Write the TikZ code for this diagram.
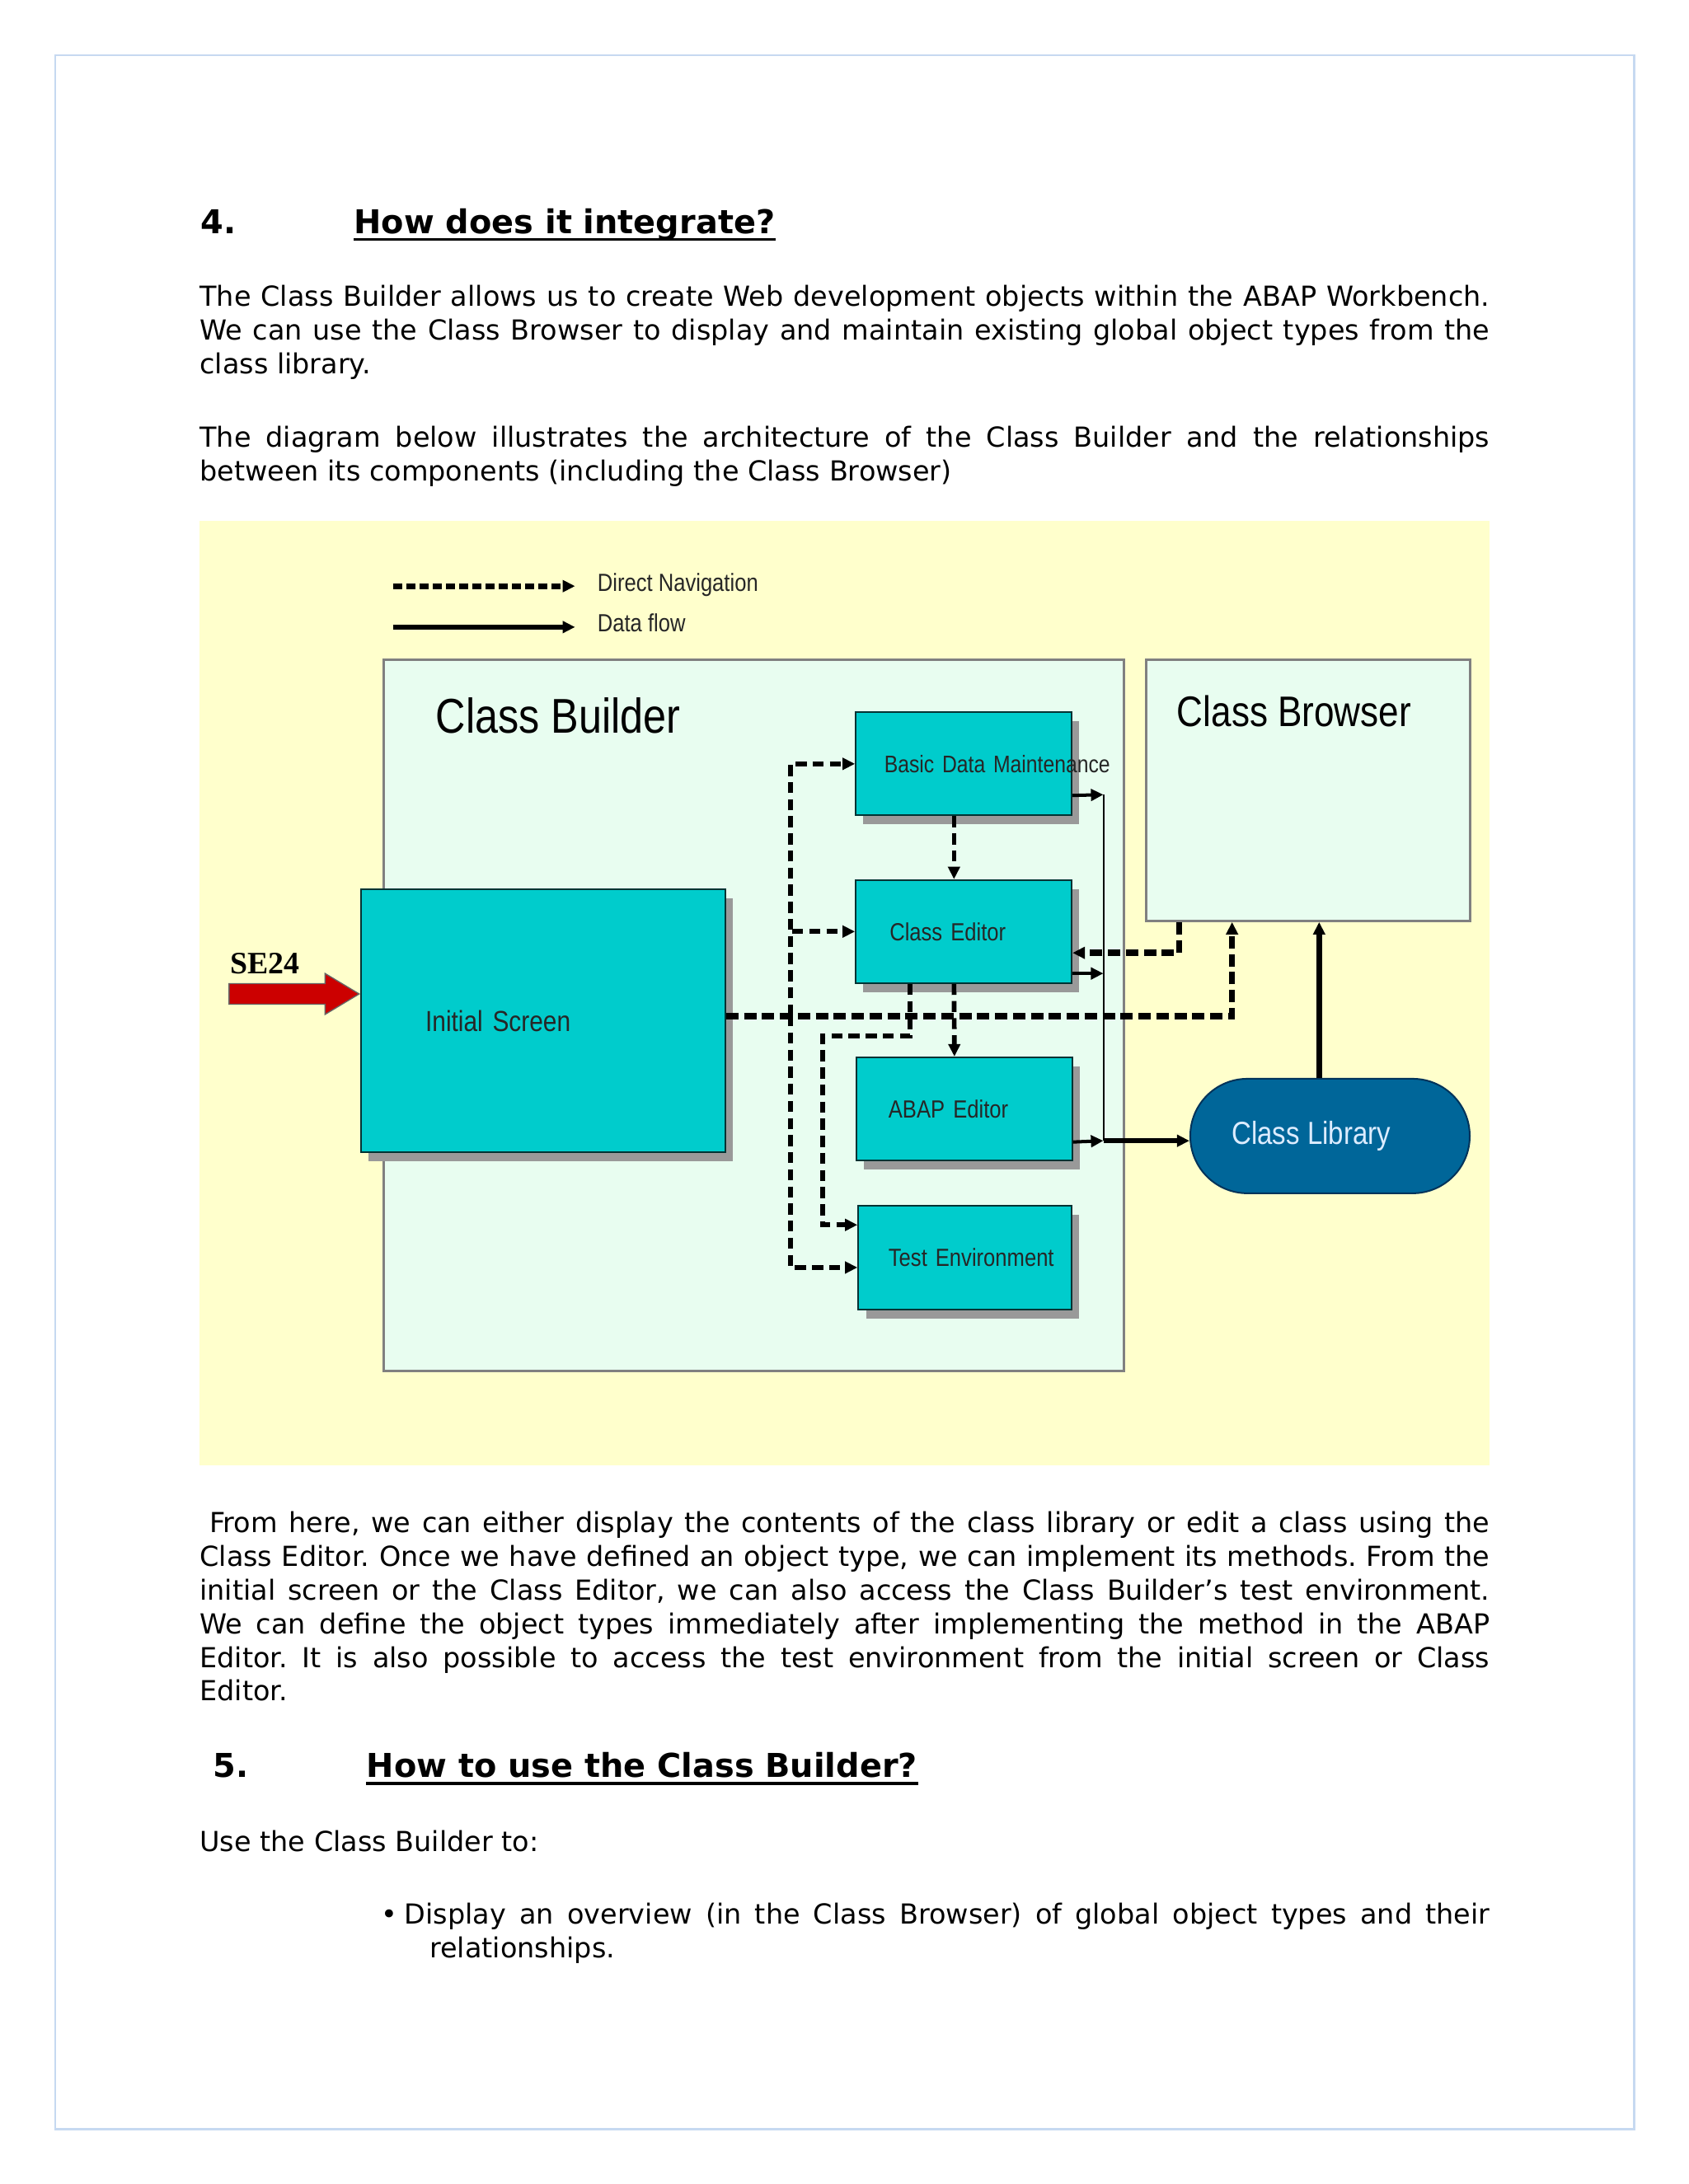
\documentclass[tikz,border=0pt]{standalone}
\usepackage{fontspec}
\setmainfont{DejaVu Sans}
\newfontfamily\diagfont[FakeStretch=0.85]{Liberation Sans}
\newfontfamily\labelfont{Liberation Serif}
\usepackage{xcolor}
\usetikzlibrary{arrows.meta, positioning, calc, shapes.arrows, shadows}
\frenchspacing
\newlength\pxu
\setlength\pxu{0.505pt}
\definecolor{pageframe}{RGB}{198,217,241}
\definecolor{diagyellow}{RGB}{255,255,204}
\definecolor{builderfill}{RGB}{232,253,240}
\definecolor{framegray}{RGB}{128,128,128}
\definecolor{tealfill}{RGB}{0,204,204}
\definecolor{tealline}{RGB}{0,51,51}
\definecolor{shadowgray}{RGB}{153,153,153}
\definecolor{libblue}{RGB}{0,102,153}
\definecolor{libline}{RGB}{0,51,90}
\definecolor{libtext}{RGB}{220,236,255}
\definecolor{entryred}{RGB}{204,0,0}
\tikzset{
    para/.style={anchor=base west, inner sep=0pt, text width=467.6pt, align=justify, font=\fontsize{10}{12.2}\selectfont},
    heading/.style={anchor=base west, inner sep=0pt, font=\fontsize{11.9}{14}\selectfont\bfseries},
    container/.style={draw=framegray, line width=0.8pt, fill=builderfill, anchor=north west, inner sep=0pt},
    tealbox/.style={draw=tealline, line width=0.6pt, fill=tealfill, anchor=north west, minimum width=155\pxu, minimum height=74\pxu, text width=155\pxu, inner xsep=0pt, align=left, text=black!85, font=\diagfont\fontsize{9}{10}\selectfont, drop shadow={shadow xshift=5.5\pxu, shadow yshift=-6.5\pxu, fill=shadowgray, opacity=1}},
    legendtext/.style={anchor=base west, inner sep=0pt, text=black!85, font=\diagfont\fontsize{9}{10}\selectfont},
    nav/.style={line width=1.7pt, dash pattern=on 4pt off 2.2pt, -{Triangle[length=4.5pt,width=4.2pt]}},
    navthick/.style={nav, line width=2.2pt, dash pattern=on 4.5pt off 2pt},
    dataflow/.style={line width=1.2pt, -{Triangle[length=4.5pt,width=4.2pt]}}
}

\begin{document}
\begin{tikzpicture}[x={(0.505pt,0)}, y={(0,-0.505pt)}]
    \useasboundingbox (0,0) rectangle (1212,1568);
    % Page frame
    \draw[pageframe, line width=0.8pt] (39.6,39.6) rectangle (1173,1528.6);

    % Section 4
    \node[heading] (h4num) at (143.8,167.5) {4.};
    \node[heading] (h4title) at (253.8,167.5) {How does it integrate?};
    \draw[line width=1pt] ([yshift=-2.2pt]h4title.base west) -- ([yshift=-2.2pt]h4title.base east);
    \node[para] (intro) at (143,220) {The Class Builder allows us to create Web development objects within the ABAP Workbench.\linebreak We can use the Class Browser to display and maintain existing global object types from the\linebreak class library.};
    \node[para] (purpose) at (143,321) {The diagram below illustrates the architecture of the Class Builder and the relationships\linebreak between its components (including the Class Browser)};

    % Diagram background
    \fill[diagyellow] (143,374) rectangle (1069,1052);

    % Legend
    \node[legendtext] (navtext) at (428.5,424.5) {Direct Navigation};
    \node[legendtext] (flowtext) at (428.5,453.3) {Data flow};
    \coordinate (navstart) at (282,420.8);
    \coordinate (flowstart) at (282,450.2);
    \draw[nav, line width=2pt, dash pattern=on 3.3pt off 1.5pt, shorten >=15.7\pxu] (navstart) -- (navstart -| navtext.west);
    \draw[dataflow, line width=2pt, shorten >=15.7\pxu] (flowstart) -- (flowstart -| flowtext.west);

    % Containers
    \node[container, minimum width=531.4\pxu, minimum height=510.8\pxu,
        label={[anchor=base west, inner sep=0pt, xshift=38\pxu, yshift=-53.4\pxu, font=\diagfont\fontsize{17.7}{20}\selectfont]north west:Class Builder}] (builder) at (274.6,472.7) {};
    \node[container, minimum width=232.4\pxu, minimum height=187.7\pxu,
        label={[anchor=base west, inner sep=0pt, xshift=22.5\pxu, yshift=-49\pxu, font=\diagfont\fontsize{15.5}{18}\selectfont]north west:Class Browser}] (browser) at (822,472.7) {};

    % Components
    \node[tealbox, minimum width=261.4\pxu, text width=261.4\pxu, minimum height=188.4\pxu, font=\diagfont\fontsize{10.5}{12}\selectfont] (initial) at (258.6,638) {\hspace*{46.2\pxu}Initial Screen};
    \node[tealbox, font=\diagfont\fontsize{8.7}{10}\selectfont] (bdm) at (613.7,510.8) {\hspace*{20.5\pxu}\mbox{Basic Data Maintenance}};
    \node[tealbox] (editor) at (613.7,631.2) {\hspace*{24.3\pxu}\mbox{Class Editor}};
    \node[tealbox] (abap) at (614,758.5) {\hspace*{23.2\pxu}\mbox{ABAP Editor}};
    \node[tealbox, minimum width=153.2\pxu, text width=153.2\pxu, minimum height=74.8\pxu] (testenv) at (615.5,865) {\hspace*{21.7\pxu}\mbox{Test Environment}};
    \node[draw=libline, line width=0.6pt, fill=libblue, rounded corners=41\pxu, minimum width=200.6\pxu, minimum height=82.2\pxu, anchor=north west, text=libtext, font=\diagfont\fontsize{11.6}{13}\selectfont] (library) at (853.8,773.9) {Class Library\hspace*{27\pxu}};

    % Entry point
    \node[single arrow, draw=black!60, line width=0.4pt, fill=entryred, minimum height=93.4\pxu, inner xsep=0pt, inner ysep=7\pxu, single arrow head extend=7.3\pxu, single arrow tip angle=62, anchor=tip] (entry) at ([yshift=19.2\pxu]initial.west) {};
    \node[anchor=base west, inner sep=0pt, font=\labelfont\bfseries\fontsize{11.3}{13}\selectfont] (se24) at (165,699.3) {SE24};

    % Direct navigation
    \draw[navthick] ([yshift=3.2\pxu]initial.east) -| ([xshift=-54.6\pxu]browser.south);
    \coordinate (navbus) at (567.5,729);
    \draw[nav] (navbus) |- (bdm.west);
    \draw[nav] (navbus) |- (editor.west);
    \draw[nav] (navbus) |- ([yshift=-7\pxu]testenv.west);
    \draw[nav] ([xshift=-7\pxu]bdm.south) -- ([xshift=-7\pxu]editor.north);
    \draw[nav] ([xshift=-7\pxu]editor.south) -- ([xshift=-7\pxu]abap.north);
    \coordinate (testbend) at (590.6,743.7);
    \draw[nav] ([xshift=-38.4\pxu]editor.south) |- (testbend) |- ([yshift=23.6\pxu]testenv.west);
    \draw[navthick] ([xshift=-92.5\pxu]browser.south) |- ([yshift=-15.3\pxu]editor.east);

    % Data flow
    \coordinate (bustop) at (792,570.5);
    \coordinate (busend) at (792,819);
    \draw[line width=0.6pt] (bustop) -- (busend);
    \draw[dataflow] ([yshift=-22.7\pxu]bdm.east) -- (bustop);
    \coordinate (editortap) at ([yshift=-30.1\pxu]editor.east);
    \draw[dataflow] (editortap) -- (editortap -| bustop);
    \coordinate (abaptap) at ([yshift=-23.8\pxu]abap.east);
    \draw[dataflow] (abaptap) -- (busend);
    \draw[dataflow, line width=1.8pt] (busend) -- (busend -| library.west);
    \coordinate (libup) at ([xshift=-7.8\pxu]library.north);
    \draw[dataflow, line width=2pt] (libup) -- (libup |- browser.south);

    % Text after the diagram
    \node[para] (outro) at (143,1100.4) {\hspace*{3.5pt}From here, we can either display the contents of the class library or edit a class using the\linebreak Class Editor. Once we have defined an object type, we can implement its methods. From the\linebreak initial screen or the Class Editor, we can also access the Class Builder’s test environment.\linebreak We can define the object types immediately after implementing the method in the ABAP\linebreak Editor. It is also possible to access the test environment from the initial screen or Class\linebreak Editor.};

    % Section 5
    \node[heading] (h5num) at (152.7,1276) {5.};
    \node[heading] (h5title) at (262.8,1276) {How to use the Class Builder?};
    \draw[line width=1pt] ([yshift=-2.2pt]h5title.base west) -- ([yshift=-2.2pt]h5title.base east);
    \node[para] (usage) at (143,1329) {Use the Class Builder to:};
    \node[para, text width=401.8pt] (item) at (273.4,1381.5) {\makebox[8.4pt][l]{•}Display an overview (in the Class Browser) of global object types and their\linebreak\hspace*{17.5pt}relationships.};
\end{tikzpicture}
\end{document}
